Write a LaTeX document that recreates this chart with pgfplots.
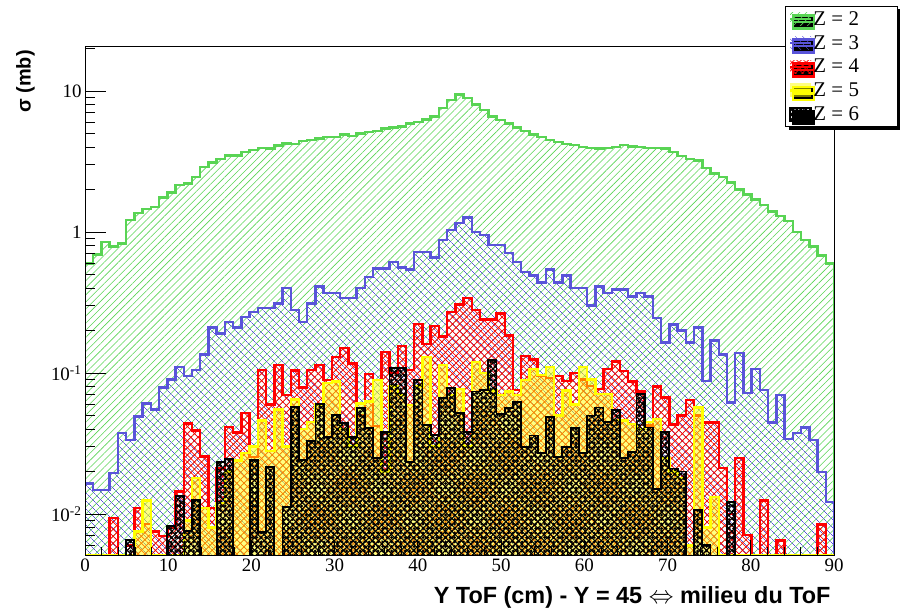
\documentclass[border=0pt]{standalone}
\usepackage{pgfplots}
\pgfplotsset{compat=1.18}
\usepackage{pgfplotstable}
\usetikzlibrary{patterns.meta,shadows}
\usepackage{fontspec}
\setmainfont{Liberation Serif}
\newfontfamily\hb{Liberation Sans}
\definecolor{rgreen}{RGB}{89,212,84}
\definecolor{rblue}{RGB}{89,84,217}
\definecolor{rred}{RGB}{255,0,0}
\definecolor{ryellow}{RGB}{255,255,0}

% first and last rows (value 0.001, below the axis) close each histogram at the bottom
\pgfplotstableread{
j z2 z3 z4 z5 z6
0 0.001 0.001 0.001 0.001 0.001
0 0.60 0.0165 0.001 0.0051 0.001
1 0.69 0.0148 0.001 0.0051 0.001
2 0.85 0.0148 0.001 0.0051 0.001
3 0.79 0.0195 0.0094 0.0051 0.001
4 0.83 0.0375 0.001 0.0051 0.001
5 1.22 0.0335 0.006 0.0051 0.0065
6 1.36 0.049 0.011 0.0075 0.001
7 1.45 0.061 0.0085 0.0125 0.001
8 1.50 0.055 0.0075 0.0051 0.001
9 1.75 0.079 0.0070 0.0051 0.001
10 1.90 0.090 0.0080 0.0051 0.0082
11 2.15 0.110 0.0145 0.0051 0.0135
12 2.20 0.095 0.044 0.0090 0.0076
13 2.45 0.105 0.039 0.0180 0.0125
14 2.90 0.135 0.0255 0.0110 0.001
15 3.10 0.21 0.011 0.0080 0.001
16 3.30 0.19 0.021 0.0120 0.0235
17 3.50 0.23 0.0415 0.0200 0.0245
18 3.50 0.21 0.038 0.0240 0.001
19 3.70 0.25 0.052 0.0270 0.001
20 3.80 0.27 0.0254 0.0300 0.0240
21 3.95 0.29 0.105 0.0460 0.0075
22 3.90 0.29 0.060 0.0280 0.0215
23 4.10 0.31 0.114 0.0550 0.001
24 4.25 0.40 0.070 0.0300 0.0112
25 4.20 0.28 0.104 0.0650 0.0575
26 4.40 0.23 0.079 0.0400 0.0240
27 4.50 0.31 0.105 0.0450 0.0330
28 4.60 0.41 0.114 0.0600 0.0600
29 4.70 0.37 0.089 0.0850 0.0350
30 4.70 0.37 0.130 0.0870 0.0505
31 4.90 0.34 0.150 0.0400 0.0440
32 4.80 0.34 0.117 0.0300 0.0353
33 5.00 0.40 0.050 0.0610 0.0563
34 5.10 0.48 0.098 0.0626 0.0405
35 5.20 0.55 0.042 0.0890 0.0250
36 5.40 0.55 0.141 0.0200 0.0384
37 5.50 0.61 0.100 0.0800 0.1080
38 5.60 0.56 0.155 0.0700 0.1080
39 5.90 0.54 0.105 0.0593 0.0235
40 6.00 0.72 0.222 0.0800 0.0890
41 6.30 0.72 0.160 0.1300 0.0428
42 6.60 0.66 0.216 0.0300 0.0363
43 7.60 0.88 0.182 0.1140 0.0662
44 8.60 1.03 0.27 0.0700 0.0780
45 9.40 1.16 0.305 0.0770 0.0520
46 8.90 1.27 0.34 0.0300 0.0380
47 8.00 1.00 0.28 0.1200 0.0740
48 7.30 0.95 0.24 0.1000 0.0760
49 6.60 0.81 0.24 0.0750 0.1240
50 6.20 0.81 0.265 0.0700 0.0510
51 5.90 0.71 0.185 0.0740 0.0565
52 5.50 0.61 0.076 0.0700 0.0620
53 5.20 0.52 0.132 0.0890 0.0300
54 4.90 0.49 0.125 0.1070 0.0360
55 4.70 0.44 0.095 0.0970 0.0270
56 4.50 0.54 0.092 0.1100 0.0485
57 4.35 0.44 0.095 0.0500 0.0255
58 4.20 0.49 0.088 0.0750 0.0300
59 4.15 0.40 0.100 0.0600 0.0405
60 4.00 0.40 0.090 0.1100 0.0270
61 3.95 0.30 0.081 0.0900 0.0500
62 3.90 0.41 0.077 0.0710 0.0570
63 3.95 0.37 0.107 0.0710 0.0450
64 4.00 0.39 0.121 0.0465 0.0545
65 4.15 0.39 0.103 0.0460 0.0250
66 4.05 0.35 0.087 0.0435 0.0275
67 4.00 0.37 0.074 0.0400 0.0710
68 3.95 0.35 0.0425 0.0450 0.0410
69 3.95 0.245 0.080 0.0470 0.0150
70 3.90 0.165 0.067 0.0250 0.0380
71 3.70 0.22 0.043 0.0200 0.0210
72 3.45 0.20 0.050 0.0180 0.0200
73 3.30 0.165 0.0645 0.0060 0.001
74 3.20 0.21 0.050 0.0570 0.0107
75 2.85 0.088 0.0447 0.0080 0.0060
76 2.60 0.17 0.0447 0.0132 0.001
77 2.45 0.135 0.0212 0.0051 0.001
78 2.25 0.062 0.010 0.0051 0.0122
79 2.00 0.139 0.0249 0.0051 0.001
80 1.85 0.072 0.0071 0.0051 0.001
81 1.70 0.107 0.001 0.0051 0.001
82 1.55 0.076 0.0125 0.0051 0.001
83 1.40 0.0447 0.001 0.0051 0.001
84 1.30 0.070 0.0065 0.0051 0.001
85 1.20 0.034 0.001 0.0051 0.001
86 1.00 0.0375 0.001 0.0051 0.001
87 0.88 0.041 0.001 0.0051 0.001
88 0.79 0.0335 0.001 0.0051 0.001
89 0.68 0.0198 0.0084 0.0051 0.001
90 0.60 0.0122 0.001 0.0051 0.001
91 0.60 0.0122 0.001 0.0051 0.001
91 0.001 0.001 0.001 0.001 0.001
}\histdata

\begin{document}
\begin{tikzpicture}
\path[use as bounding box] (-85bp,-59bp) rectangle (816bp,555bp);
\begin{axis}[
  name=ax,
  at={(0,0)}, anchor=south west,
  scale only axis, width=749bp, height=508bp,
  xmin=0, xmax=90, ymode=log, ymin=0.00512, ymax=20.5,
  axis on top,
  axis line style={line width=1bp},
  tick align=inside, tick pos=left,
  xtick={0,10,20,30,40,50,60,70,80,90}, minor x tick num=4,
  ytick={0.01,0.1,1,10},
  yticklabels={10\textsuperscript{-2},10\textsuperscript{-1},1,10},
  minor ytick={0.006,0.007,0.008,0.009,0.02,0.03,0.04,0.05,0.06,0.07,0.08,0.09,0.2,0.3,0.4,0.5,0.6,0.7,0.8,0.9,2,3,4,5,6,7,8,9,20},
  tick style={black, line width=0.8bp},
  xtick style={/pgfplots/major tick length=15bp,/pgfplots/minor tick length=8bp},
  ytick style={/pgfplots/major tick length=21bp,/pgfplots/minor tick length=10bp},
  ticklabel style={font=\fontsize{19}{22}\selectfont},
  /pgf/number format/assume math mode=true,
  xlabel={Y ToF (cm) - Y = 45 $\Leftrightarrow$ milieu du ToF},
  xlabel style={font=\hb\bfseries\fontsize{23.5}{26}\selectfont, at={(rel axis cs:1,0)}, anchor=base east, yshift=-48bp},
  legend style={at={(1.0854,1.0807)}, anchor=north east, font=\fontsize{21}{24}\selectfont,
    draw=black, line width=1bp, fill=white, inner xsep=3bp, inner ysep=3bp, row sep=4.5bp,
    drop shadow={shadow xshift=3bp,shadow yshift=-3bp,fill=black,opacity=1}},
  legend cell align=left,
  legend image code/.code={
    \path[#1,draw=none] (0bp,-6.5bp) rectangle (21bp,6.5bp);
    \draw[#1] (0bp,0bp) -- (21bp,0bp);
  },
]
\addplot[const plot, draw=rgreen, line width=2.5bp,
  pattern={Lines[angle=45,distance=5bp,line width=0.6bp]}, pattern color=rgreen]
  table[x expr=\thisrow{j}*90/91, y=z2]{\histdata};
\addlegendentry{\makebox[78bp][l]{\hspace{-1bp}Z = 2}}
\addplot[const plot, draw=rblue, line width=2.5bp,
  pattern={Lines[angle=-45,distance=6bp,line width=0.6bp]}, pattern color=rblue]
  table[x expr=\thisrow{j}*90/91, y=z3]{\histdata};
\addlegendentry{\makebox[78bp][l]{\hspace{-1bp}Z = 3}}
\addplot[const plot, draw=rred, line width=2.5bp,
  pattern={Hatch[angle=45,distance=5bp,line width=0.7bp]}, pattern color=rred]
  table[x expr=\thisrow{j}*90/91, y=z4]{\histdata};
\addlegendentry{\makebox[78bp][l]{\hspace{-1bp}Z = 4}}
\addplot[const plot, draw=ryellow, line width=2.5bp,
  pattern={Dots[distance=2bp,radius=0.8bp]}, pattern color=ryellow]
  table[x expr=\thisrow{j}*90/91, y=z5]{\histdata};
\addlegendentry{\makebox[78bp][l]{\hspace{-1bp}Z = 5}}
\addplot[const plot, draw=black, line width=1.8bp,
  pattern={Hatch[angle=45,distance=4.5bp,line width=1.1bp]}, pattern color=black,
  postaction={pattern={Dots[distance=4.5bp,radius=1.5bp]}, pattern color=black}]
  table[x expr=\thisrow{j}*90/91, y=z6]{\histdata};
\addlegendentry{\makebox[78bp][l]{\hspace{-1bp}Z = 6}}
\end{axis}
\node[rotate=90, anchor=south east, inner sep=0pt,
  font=\hb\bfseries\fontsize{20}{22}\selectfont] at ([xshift=-50bp,yshift=-3bp]ax.north west) {σ (mb)};
\end{tikzpicture}
\end{document}
